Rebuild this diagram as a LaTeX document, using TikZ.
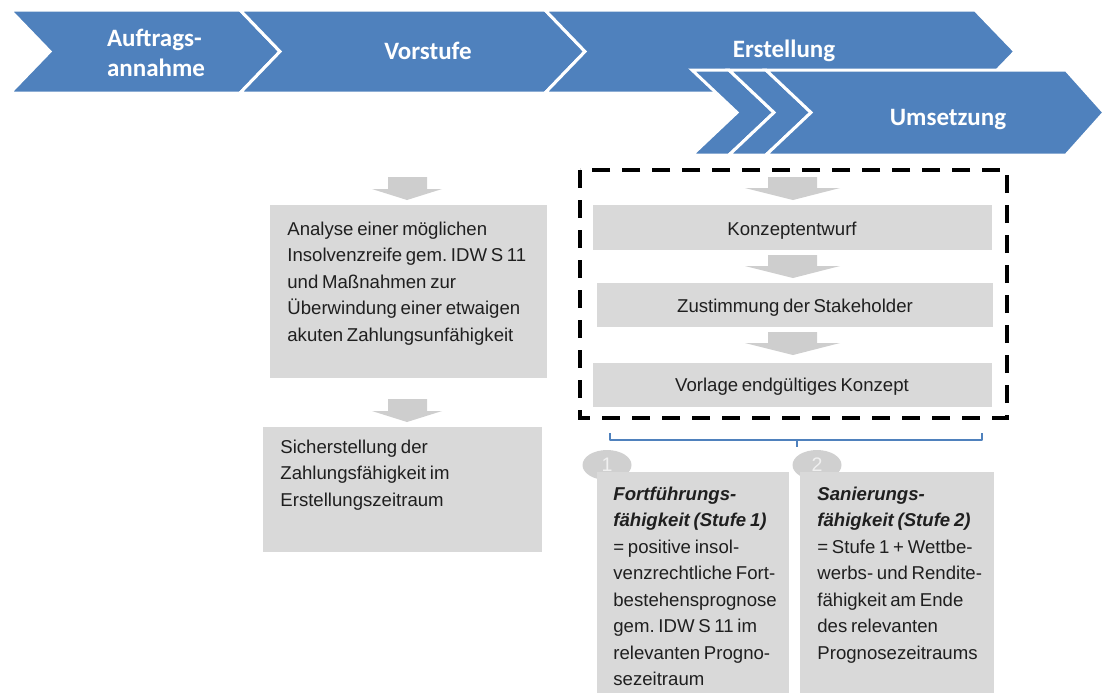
\documentclass[tikz,border=0pt]{standalone}
\usepackage{fontspec}
\setmainfont{Liberation Sans}[WordSpace=0.7]
\newfontfamily\chevfont{Carlito}
\usetikzlibrary{shapes.geometric}
\frenchspacing

\definecolor{chevblue}{RGB}{79,129,189}
\definecolor{boxgray}{RGB}{217,217,217}
\definecolor{arrowgray}{RGB}{206,206,206}
\definecolor{numgray}{RGB}{208,208,208}

\tikzset{
  chevron/.style={fill=chevblue, draw=white, line width=1.5pt, line join=miter},
  chevtext/.style={text=white, inner sep=0pt, align=left,
    font=\chevfont\bfseries\fontsize{12.5}{15}\selectfont},
  graybox/.style={fill=boxgray},
  grayarrow/.style={fill=arrowgray},
  boxtext/.style={text=black!88, inner sep=0pt, anchor=base west, align=left,
    text width=140pt, font=\fontsize{9.3}{13.25}\selectfont,
    execute at begin node={\spaceskip=0.2em\relax}},
  midtext/.style={text=black!88, inner sep=0pt, anchor=base,
    font=\fontsize{9.3}{13.25}\selectfont},
  numdot/.style={ellipse, fill=numgray, inner sep=0pt, minimum width=24.5pt,
    minimum height=15pt, text=white!94!black, font=\fontsize{9.8}{10}\selectfont}
}

\begin{document}
\begin{tikzpicture}[x=0.5pt, y=-0.5pt]
            \useasboundingbox (0,0) rectangle (1104,693);

            % phases
            \draw[chevron] (10,10) -- (240,10) -- (280,51.5) -- (240,93) -- (10,93) -- (50,51.5) -- cycle;
            \draw[chevron] (240,10) -- (545,10) -- (585,51.5) -- (545,93) -- (240,93) -- (280,51.5) -- cycle;
            \draw[chevron] (545,10) -- (975,10) -- (1015,51.5) -- (975,93) -- (545,93) -- (585,51.5) -- cycle;

            \draw[chevron] (692,70) -- (729,70) -- (774,112.5) -- (729,155) -- (692,155) -- (737,112.5) -- cycle;
            \draw[chevron] (729,70) -- (766,70) -- (811,112.5) -- (766,155) -- (729,155) -- (774,112.5) -- cycle;
            \draw[chevron] (766,70) -- (1066,70) -- (1104,112.5) -- (1066,155) -- (766,155) -- (811,112.5) -- cycle;

            \node[chevtext] (auftrag) at (156,53) {Auftrags-\\annahme};
            \node[chevtext] (vorstufe) at (428,51) {Vorstufe};
            \node[chevtext] (erstellung) at (784,51) {Erstellung};
            \node[chevtext] (umsetzung) at (948,120) {Umsetzung};

            % Vorstufe
            \fill[grayarrow] (388,177) -- (427,177) -- (427,189) -- (442,189) -- (407,200) -- (372,189) -- (388,189) -- cycle;
            \fill[graybox] (270,205) rectangle (547,378);
            \node[boxtext] (analyse) at (287,235) {Analyse einer möglichen\\Insolvenzreife gem. IDW S 11\\und Maßnahmen zur\\Überwindung einer etwaigen\\akuten Zahlungsunfähigkeit};

            \fill[grayarrow] (388,399) -- (427,399) -- (427,411) -- (442,411) -- (407,422) -- (372,411) -- (388,411) -- cycle;
            \fill[graybox] (263,427) rectangle (542,552);
            \node[boxtext] (sicher) at (280,453) {Sicherstellung der\\Zahlungsfähigkeit im\\Erstellungszeitraum};

            % Erstellung
            \fill[grayarrow] (768,177) -- (817,177) -- (817,188) -- (840,188) -- (793,200) -- (745,188) -- (768,188) -- cycle;
            \fill[graybox] (593,205) rectangle (992,250);
            \node[midtext] (konzept) at (792,235) {Konzeptentwurf};

            \fill[grayarrow] (768,255) -- (817,255) -- (817,266) -- (840,266) -- (793,278) -- (745,266) -- (768,266) -- cycle;
            \fill[graybox] (597,283) rectangle (993,327);
            \node[midtext] (zustimmung) at (795,312) {Zustimmung der Stakeholder};

            \fill[grayarrow] (768,332) -- (817,332) -- (817,343) -- (840,343) -- (793,355) -- (745,343) -- (768,343) -- cycle;
            \fill[graybox] (593,363) rectangle (992,407);
            \node[midtext] (vorlage) at (792,391) {Vorlage endgültiges Konzept};

            \draw[black, line width=1.6pt, dash pattern=on 9pt off 6pt] (580,170) rectangle (1007,418);

            \coordinate (bl) at (610,433);
            \coordinate (br) at (982,433);
            \coordinate (bm) at (797,447);
            \draw[chevblue, line width=0.8pt, line join=round] (bl) -- (bl |- 0,440) -- (br |- 0,440) -- (br);
            \draw[chevblue, line width=0.8pt] (bm |- 0,440) -- (bm);

            % Ergebnis
            \node[numdot] (num1) at (607,465) {1};
            \node[numdot] (num2) at (817,465) {2};
            \fill[graybox] (597,472) rectangle (789,693);
            \fill[graybox] (800,472) rectangle (994,693);
            \node[boxtext] (fortf) at (613,500) {\textbf{\textit{Fortführungs-}}\\\textbf{\textit{fähigkeit (Stufe 1)}}\\= positive insol-\\venzrechtliche Fort-\\bestehensprognose\\gem. IDW S 11 im\\relevanten Progno-\\sezeitraum};
            \node[boxtext] (sanier) at (817,500) {\textbf{\textit{Sanierungs-}}\\\textbf{\textit{fähigkeit (Stufe 2)}}\\= Stufe 1 + Wettbe-\\werbs- und Rendite-\\fähigkeit am Ende\\des relevanten\\Prognosezeitraums};
        \end{tikzpicture}
\end{document}
